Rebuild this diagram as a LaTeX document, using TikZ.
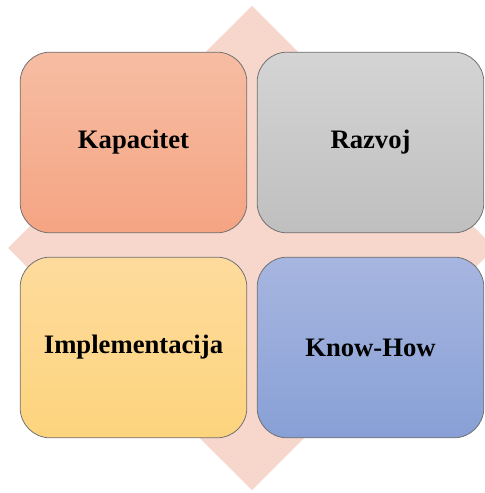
\documentclass[tikz,border=0pt]{standalone}
\usepackage{fontspec}
\setmainfont{Liberation Serif}
\definecolor{diamondpink}{HTML}{F7D6CC}
\definecolor{boxline}{HTML}{707070}
\tikzset{tile/.style = {draw=boxline,line width=0.6pt,rounded corners=22.5pt,
  minimum width=170pt,minimum height=135.5pt,inner sep=0pt,
  font=\fontsize{20}{24}\selectfont\bfseries}}

\begin{document}
\begin{tikzpicture}[x=0.75pt,y=-0.75pt]
          \useasboundingbox (0,0) rectangle (485,493);
          \clip (0,0) rectangle (485,493);
          \fill[diamondpink] (252,6) -- (495,248) -- (252,490) -- (8,248) -- cycle;

          \node[tile,top color={rgb,255:red,246;green,189;blue,163},bottom color={rgb,255:red,245;green,164;blue,131}] (kap) at (133.5,142.5) {Kapacitet};
          \node[tile,top color={rgb,255:red,212;green,212;blue,212},bottom color={rgb,255:red,191;green,191;blue,191}] (raz) at (370.5,142.5) {Razvoj};
          \node[tile,top color={rgb,255:red,254;green,219;blue,157},bottom color={rgb,255:red,253;green,212;blue,125}] (imp) at (133.5,347.5) {Implementacija};
          \node[tile,top color={rgb,255:red,167;green,182;blue,224},bottom color={rgb,255:red,136;green,160;blue,214}] (know) at (370.5,347.5) {Know-How};
        \end{tikzpicture}
\end{document}
